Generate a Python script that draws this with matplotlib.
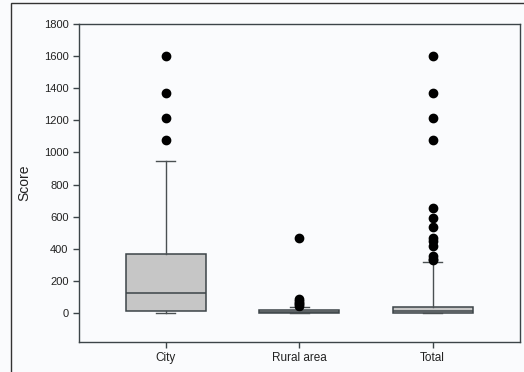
import matplotlib
matplotlib.use("Agg")
import matplotlib.pyplot as plt
from matplotlib.patches import Rectangle

plt.rcParams['font.family'] = ['Liberation Sans', 'DejaVu Sans']

categories = ["City", "Rural area", "Total"]
q1 = [12, 0, 0]
median = [127, 6, 10]
q3 = [366, 22, 37]
whisker_low = [0, 0, 0]
whisker_high = [950, 35, 318]
outliers = [
    [1600, 1368, 1212, 1079],
    [466, 85, 75, 65, 55, 45],
    [1600, 1368, 1212, 1079, 657, 590, 536, 468, 449, 418, 353, 337, 328],
]

stats = []
for i, name in enumerate(categories):
    stats.append(dict(label=name, q1=q1[i], med=median[i], q3=q3[i],
                      whislo=whisker_low[i], whishi=whisker_high[i],
                      fliers=outliers[i]))

bg = "#fafbfd"
fig = plt.figure(figsize=(5.24, 3.72), dpi=100, facecolor=bg)
ax = fig.add_axes([79/524, 1-342/372, (520-79)/524, (342-24)/372], facecolor=bg)

edge = "#3c4448"
ax.bxp(stats, positions=[1, 2, 3], widths=0.6, patch_artist=True,
       boxprops=dict(facecolor="#c6c6c6", edgecolor=edge, linewidth=1.1),
       medianprops=dict(color=edge, linewidth=1.1),
       whiskerprops=dict(color="#4a5052", linewidth=1.0),
       capprops=dict(color="#4a5052", linewidth=1.0),
       capwidths=0.14,
       flierprops=dict(marker='o', markerfacecolor='black', markeredgecolor='black',
                       markersize=6, linestyle='none'))

ax.set_xlim(0.35, 3.655)
ax.set_ylim(-180, 1800)
ax.set_yticks(range(0, 1801, 200))
ax.set_xticks([1, 2, 3])
ax.set_xticklabels(categories)
ax.tick_params(axis='both', direction='out', length=4, width=1, color="#3c4448",
               labelsize=8, labelcolor="#222222")
ax.tick_params(axis='x', labelsize=8.5)
ax.set_ylabel("Score", fontsize=10, color="#222222", labelpad=9)
for s in ax.spines.values():
    s.set_color("#3c4448")
    s.set_linewidth(1.0)

fig.patches.append(Rectangle((11/524, -0.1), 2, 1 - 3/372 + 0.1, fill=False,
                             edgecolor="#333333", linewidth=1.0,
                             transform=fig.transFigure, figure=fig))

fig.savefig("out.png", dpi=100, facecolor=bg)
